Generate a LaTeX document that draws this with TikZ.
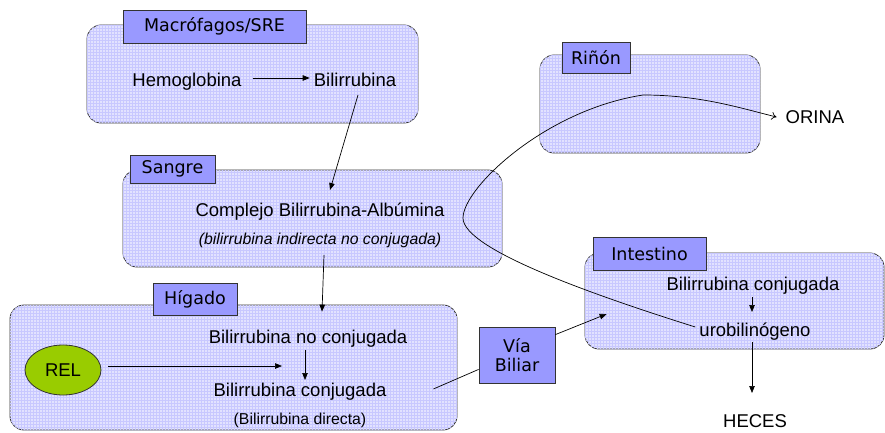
\documentclass[tikz,border=0pt]{standalone}
\usepackage{fontspec}
\setmainfont{Liberation Sans}
\newfontfamily\tagfam{DejaVu Sans}
\usetikzlibrary{arrows.meta,shapes.geometric,calc,patterns}
\definecolor{regfill}{RGB}{226,226,255}
\definecolor{gridcol}{RGB}{200,200,255}
\definecolor{tagfill}{RGB}{153,153,255}
\definecolor{relgreen}{RGB}{153,204,0}
\newcommand\txtbig{\fontsize{18.5}{22}\selectfont}
\newcommand\txtsmall{\fontsize{15.8}{19}\selectfont}
\newcommand\tagtxt{\tagfam\fontsize{17.5}{22}\selectfont}
\tikzset{
  region/.style={draw=black!80, line width=0.8pt, rounded corners=14pt, fill=regfill,
    postaction={pattern=grid, pattern color=gridcol}, inner sep=0pt},
  tagbox/.style={draw=black!80, line width=0.8pt, fill=tagfill, inner sep=0pt, font=\tagtxt, align=center},
  txt/.style={inner sep=0pt, anchor=base, font=\txtbig},
  arr/.style={line width=0.7pt, -{Triangle[length=7pt,width=5.5pt]}},
  ln/.style={line width=0.7pt},
}
\begin{document}
\begin{tikzpicture}[x=1pt,y=-1pt]
\useasboundingbox (0,0) rectangle (885,433);
% regions
\node[region, minimum width=331pt, minimum height=98pt] (macbox) at (252.5,74) {};
\node[region, minimum width=379pt, minimum height=97pt] (sangrebox) at (312.5,218.5) {};
\node[region, minimum width=447pt, minimum height=125pt] (higadobox) at (233.5,367.5) {};
\node[region, minimum width=220pt, minimum height=98pt] (rinonbox) at (650,104) {};
\node[region, minimum width=299pt, minimum height=96pt] (intbox) at (734.5,301) {};
% tags
\node[tagbox, minimum width=183pt, minimum height=33pt] (maclabel) at (214.5,26.5) {Macrófagos/SRE};
\node[tagbox, minimum width=85pt, minimum height=28pt] (sangrelabel) at (172.5,169) {Sangre};
\node[tagbox, minimum width=84pt, minimum height=32pt] (higadolabel) at (195,299) {Hígado};
\node[tagbox, minimum width=68pt, minimum height=31pt] (rinonlabel) at (596,57.5) {Riñón};
\node[tagbox, minimum width=113pt, minimum height=33pt] (intlabel) at (649.5,253.5) {Intestino};
\node[tagbox, minimum width=76pt, minimum height=56pt] (via) at (517,355) {Vía\\[-3pt]Biliar};
% texts
\node[txt] (hemo) at (187,87) {Hemoglobina};
\node[txt] (bili) at (355,87) {Bilirrubina};
\node[txt] (complejo) at (320,216) {Complejo Bilirrubina-Albúmina};
\node[txt, font=\txtsmall\itshape] (indirecta) at (320,244) {(bilirrubina indirecta no conjugada)};
\node[txt] (nobili) at (308,343) {Bilirrubina no conjugada};
\node[txt] (conj) at (300,396) {Bilirrubina conjugada};
\node[txt, font=\txtsmall] (directa) at (300,424) {(Bilirrubina directa)};
\node[ellipse, draw=black!80, line width=0.8pt, fill=relgreen, minimum width=76pt, minimum height=50pt, inner sep=0pt, font=\txtbig] (rel) at (63,370) {REL};
\node[txt] (intbili) at (753,290) {Bilirrubina conjugada};
\node[txt] (uro) at (755,336) {urobilinógeno};
\node[txt] (heces) at (755,427) {HECES};
\node[txt] (orina) at (815,123) {ORINA};
% connectors
\draw[arr] ($(hemo.base east)+(11,-9)$) -- ($(bili.base west)+(-4,-9)$);
\draw[arr] ($(bili.base)+(3,8)$) -- ($(complejo.base)+(10,-26)$);
\draw[arr] ($(indirecta.base)+(4,11)$) -- ($(higadobox.north)+(88.5,7)$);
\draw[arr] ($(rel.east)+(7,-4)$) -- ($(conj.base)+(-18,-30)$);
\draw[arr] ($(nobili.base)+(-3,7)$) -- ($(conj.base)+(5,-16)$);
\draw[ln] ($(higadobox.east)+(-24,21.5)$) -- ($(via.south west)+(0,-14)$);
\draw[arr] ($(via.north east)+(0,8)$) -- ($(intbox.west)+(22,13)$);
\draw[arr] ($(intbili.base)+(-1,7)$) -- ($(uro.base)+(-3,-24)$);
\draw[arr] ($(uro.base)+(-3,6)$) -- ($(heces.base)+(-3,-34)$);
\draw[ln, -{To[length=5pt,width=8pt]}] ($(uro.base west)+(-4,-9)$)
  .. controls (600,297) and (463,250) .. (463,218)
  .. controls (463,188) and (545,110) .. (643,95)
  .. controls (700,95) and (740,108) .. ($(orina.base west)+(-9,-6)$);
\end{tikzpicture}
\end{document}
